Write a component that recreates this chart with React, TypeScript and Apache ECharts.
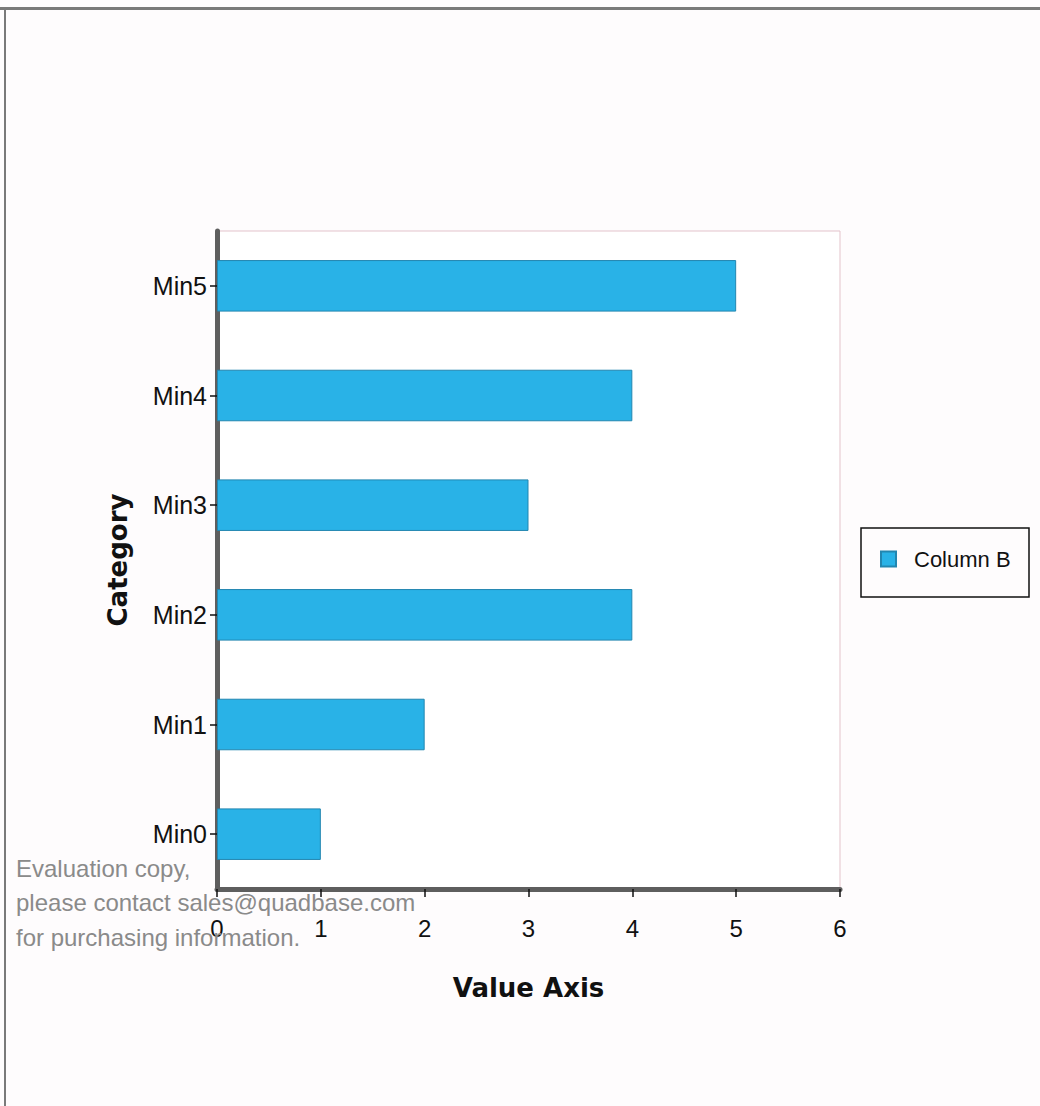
import React, { useEffect, useRef } from "react";
import * as echarts from "echarts";

const categories = ["Min0", "Min1", "Min2", "Min3", "Min4", "Min5"];
const columnB = [1, 2, 4, 3, 4, 5];
const seriesName = "Column B";
const watermark = ["Evaluation copy,", "please contact sales@quadbase.com", "for purchasing information."];

export default function App() {
  const ref = useRef<HTMLDivElement>(null);
  useEffect(() => {
    document.body.style.margin = "0";
    const chart = echarts.init(ref.current!, null, { renderer: "svg" });
    const font = "'Liberation Sans', Arial, sans-serif";
    const boldFont = "'DejaVu Sans', Verdana, sans-serif";
    chart.setOption({
      animation: false,
      backgroundColor: "#fefcfd",
      textStyle: { fontFamily: font },
      grid: { left: 217, right: 200, top: 231, bottom: 217, show: true, borderColor: "#e3c3cb", borderWidth: 1, backgroundColor: "#ffffff" },
      legend: {
        show: true,
        left: 880,
        top: 548,
        orient: "vertical",
        icon: "rect",
        itemWidth: 15,
        itemHeight: 15,
        padding: 0,
        textStyle: { fontSize: 22, color: "#111", fontFamily: font, padding: [0, 0, 0, 13] },
        data: [seriesName],
      },
      xAxis: {
        type: "value",
        min: 0,
        max: 6,
        interval: 1,
        name: "Value Axis",
        nameLocation: "middle",
        nameGap: 86,
        nameTextStyle: { fontSize: 26, fontWeight: "bold", color: "#111", fontFamily: boldFont },
        axisLine: { show: true, lineStyle: { color: "#5e5e5e", width: 5 } },
        axisTick: { show: true, length: 8, inside: false, lineStyle: { color: "#111", width: 1.5 } },
        axisLabel: { fontSize: 24, color: "#111", margin: 27, fontFamily: font },
        splitLine: { show: false },
      },
      yAxis: {
        type: "category",
        data: categories,
        name: "Category",
        nameLocation: "middle",
        nameGap: 86,
        nameRotate: 90,
        nameTextStyle: { fontSize: 26, fontWeight: "bold", color: "#111", fontFamily: boldFont },
        axisLine: { show: true, lineStyle: { color: "#5e5e5e", width: 5 } },
        axisTick: { show: true, alignWithLabel: true, length: 7, lineStyle: { color: "#111", width: 1.5 } },
        axisLabel: { fontSize: 25, color: "#111", margin: 10, fontFamily: font },
      },
      series: [
        {
          name: seriesName,
          type: "bar",
          data: columnB,
          barWidth: "47%",
          itemStyle: { color: "#29b2e7", borderColor: "#2286b0", borderWidth: 1 },
        },
      ],
      graphic: [
        { type: "rect", shape: { x: 0, y: 7, width: 1040, height: 3 }, style: { fill: "#7a7a7a" }, z: 100 },
        { type: "rect", shape: { x: 4, y: 7, width: 2, height: 1099 }, style: { fill: "#7a7a7a" }, z: 100 },
        { type: "rect", shape: { x: 861, y: 528, width: 168, height: 69 }, style: { fill: "none", stroke: "#111", lineWidth: 1.5 }, z: 100 },
        ...watermark.map((t, i) => ({
          type: "text",
          left: 16,
          top: 856 + i * 34.5,
          z: 100,
          style: { text: t, fill: "#8a8a8a", font: `24px ${font}` },
        })),
      ],
    });
    return () => chart.dispose();
  }, []);
  return <div ref={ref} style={{ width: 1040, height: 1106 }} />;
}
